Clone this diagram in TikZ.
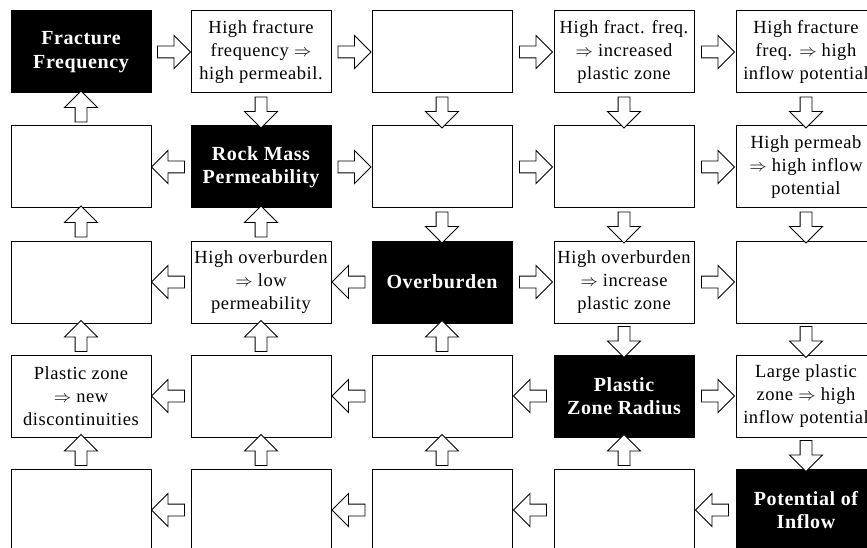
\documentclass[tikz,border=0pt]{standalone}
\usepackage{fontspec}
\setmainfont{Liberation Serif}[LetterSpace=3]
\usetikzlibrary{shapes.arrows}

\tikzset{
  cell/.style={draw, line width=1pt, fill=white, minimum width=140pt, minimum height=82pt,
    inner sep=0pt, align=center, font=\fontsize{18.5}{23}\selectfont},
  key/.style={cell, fill=black, text=white, font=\fontsize{20}{23.5}\selectfont\bfseries},
  blk/.style={single arrow, draw, line width=0.9pt, fill=white, inner sep=0pt, inner ysep=5.5pt,
    single arrow head extend=10.5pt, minimum height=#1, sloped, allow upside down},
  blk/.default=32pt,
}

\begin{document}
\begin{tikzpicture}[x=1pt, y=-1pt]
    \useasboundingbox (0,0) rectangle (867,548);
    \clip (0,0) rectangle (867,548);

    % row 1
    \node[key]  (b11) at (81,52)  {Fracture\\Frequency};
    \node[cell] (b12) at (261,52) {High fracture\\frequency $\Rightarrow$\\high permeabil.};
    \node[cell] (b13) at (442,52) {};
    \node[cell] (b14) at (624,52) {High fract. freq.\\$\Rightarrow$ increased\\plastic zone};
    \node[cell] (b15) at (806,52) {High fracture\\freq. $\Rightarrow$ high\\inflow potential};
    % row 2
    \node[cell] (b21) at (81,167)  {};
    \node[key]  (b22) at (261,167) {Rock Mass\\Permeability};
    \node[cell] (b23) at (442,167) {};
    \node[cell] (b24) at (624,167) {};
    \node[cell] (b25) at (806,167) {High permeab\\$\Rightarrow$ high inflow\\potential};
    % row 3
    \node[cell] (b31) at (81,282)  {};
    \node[cell] (b32) at (261,282) {High overburden\\$\Rightarrow$ low\\permeability};
    \node[key]  (b33) at (442,282) {Overburden};
    \node[cell] (b34) at (624,282) {High overburden\\$\Rightarrow$ increase\\plastic zone};
    \node[cell] (b35) at (806,282) {};
    % row 4
    \node[cell] (b41) at (81,396)  {Plastic zone\\$\Rightarrow$ new\\discontinuities};
    \node[cell] (b42) at (261,396) {};
    \node[cell] (b43) at (442,396) {};
    \node[key]  (b44) at (624,396) {Plastic\\Zone Radius};
    \node[cell] (b45) at (806,396) {Large plastic\\zone $\Rightarrow$ high\\inflow potential};
    % row 5
    \node[cell] (b51) at (81,510)  {};
    \node[cell] (b52) at (261,510) {};
    \node[cell] (b53) at (442,510) {};
    \node[cell] (b54) at (624,510) {};
    \node[key]  (b55) at (806,510) {Potential of\\Inflow};

    % arrows point away from the diagonal
    \foreach \r in {1,...,5} {
        \foreach \c [evaluate=\c as \n using int(\c+1)] in {1,...,4} {
            \ifnum\c<\r
                \path (b\r\n.west) -- node[blk=33pt] {} (b\r\c.east);
            \else
                \path (b\r\c.east) -- node[blk=33pt] {} (b\r\n.west);
            \fi
        }
    }
    \foreach \r [evaluate=\r as \s using int(\r+1)] in {1,...,4} {
        \foreach \c in {1,...,5} {
            \ifnum\c>\r
                \path (b\r\c.south) -- node[blk=31pt] {} (b\s\c.north);
            \else
                \path (b\s\c.north) -- node[blk=31pt] {} (b\r\c.south);
            \fi
        }
    }
\end{tikzpicture}
\end{document}
